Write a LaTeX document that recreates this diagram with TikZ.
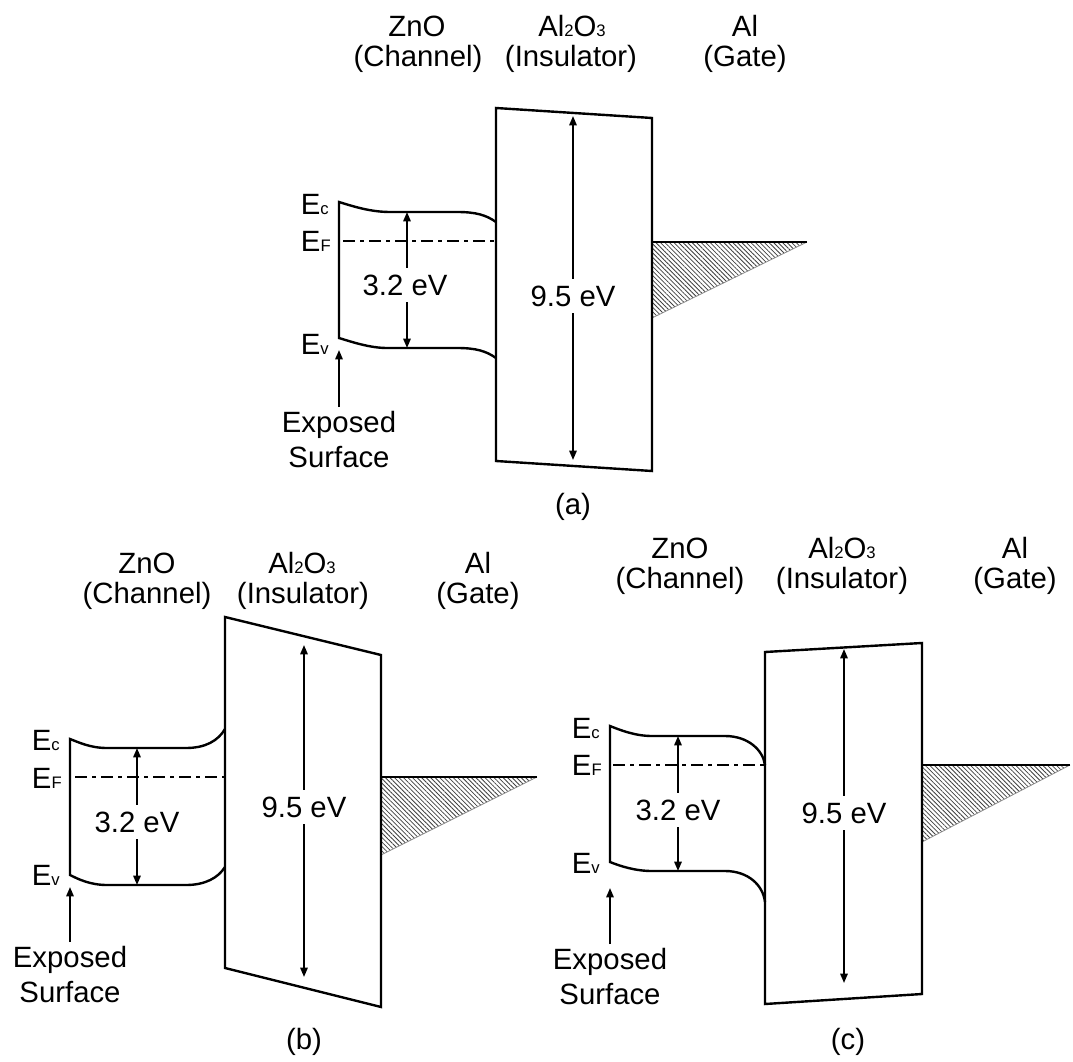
\documentclass[tikz,border=0pt]{standalone}
\usepackage{fontspec}
\setmainfont{Liberation Sans}
\usetikzlibrary{arrows.meta,patterns.meta}
\newcommand{\lo}[1]{{\fontsize{12.5pt}{12.5pt}\selectfont #1}}

\begin{document}
\begin{tikzpicture}[x=0.75pt, y=-0.75pt, every node/.style={font=\fontsize{22pt}{26.25pt}\selectfont}, >={Triangle[length=7pt,width=5.5pt]}, band/.style={line width=1.8pt}, fermi/.style={line width=1.4pt, dash pattern=on 9pt off 4pt on 2.5pt off 4pt}, gap/.style={<->, line width=1.4pt}, point/.style={->, line width=1.4pt}, lvl/.style={anchor=east, inner sep=0pt}, eg/.style={fill=white, inner xsep=1pt, inner ysep=5pt}, hatch/.style={pattern={Lines[angle=-45,distance=2.4pt,line width=0.6pt]}, pattern color=black!75}, edge/.style={black!45, line width=0.6pt}]
	\useasboundingbox (0,0) rectangle (1073,1062);
	% (a)
	\node[anchor=base] (a-zno) at (417,37) {ZnO};
	\node[anchor=base] (a-chan) at (418,67) {(Channel)};
	\node[anchor=base] (a-ox) at (572,37) {Al\lo{2}O\lo{3}};
	\node[anchor=base] (a-ins) at (571,67) {(Insulator)};
	\node[anchor=base] (a-al) at (745,37) {Al};
	\node[anchor=base] (a-gate) at (745,67) {(Gate)};
	\fill[hatch] (652,242) -- (807,242) -- (652,318) -- cycle;
	\draw[edge] (807,242) -- (652,318);
	\draw[band] (652,242) -- (807,242);
	\draw[band] (496,108) -- (652,118) -- (652,471) -- (496,461) -- cycle;
	\draw[band] (496,358) .. controls (486,351) and (476,348) .. (457,348) -- (387,348) .. controls (370,348) and (352,342) .. (339,338) -- (339,202) .. controls (352,206) and (370,212) .. (390,212) -- (457,212) .. controls (476,212) and (486,215) .. (496,222);
	\draw[fermi] (343,241) -- (496,241);
	\coordinate (a-c) at (407,212);
	\coordinate (a-v) at (407,348);
	\draw[gap] (a-c) -- (a-v);
	\node[eg] (a-eg) at (405,285) {3.2 eV};
	\coordinate (a-top) at (573,116);
	\coordinate (a-bot) at (573,460);
	\draw[gap] (a-top) -- (a-bot);
	\node[eg] (a-ei) at (573,296) {9.5 eV};
	\node[lvl] (a-ec) at (329,204) {E\lo{c}};
	\node[lvl] (a-ef) at (331,241) {E\lo{F}};
	\node[lvl] (a-ev) at (329,344) {E\lo{v}};
	\node[align=center] (a-exp) at (339,440) {Exposed\\Surface};
	\coordinate (a-surf) at (339,350);
	\draw[point] (a-exp) -- (a-surf);
	\node (a-lab) at (573,507) {(a)};
	% (b)
	\node[anchor=base] (b-zno) at (147,573) {ZnO};
	\node[anchor=base] (b-chan) at (147,603) {(Channel)};
	\node[anchor=base] (b-ox) at (302,573) {Al\lo{2}O\lo{3}};
	\node[anchor=base] (b-ins) at (303,603) {(Insulator)};
	\node[anchor=base] (b-al) at (478,573) {Al};
	\node[anchor=base] (b-gate) at (478,603) {(Gate)};
	\fill[hatch] (381,777) -- (537,777) -- (381,855) -- cycle;
	\draw[edge] (537,777) -- (381,855);
	\draw[band] (381,777) -- (537,777);
	\draw[band] (225,617) -- (381,655) -- (381,1007) -- (225,968) -- cycle;
	\draw[band] (225,867) .. controls (218,878) and (205,885) .. (186,885) -- (107,885) .. controls (90,885) and (78,879) .. (70,875) -- (70,739) .. controls (78,742) and (90,748) .. (107,748) -- (186,748) .. controls (205,748) and (218,741) .. (225,729);
	\draw[fermi] (75,777) -- (225,777);
	\coordinate (b-c) at (137,748);
	\coordinate (b-v) at (137,885);
	\draw[gap] (b-c) -- (b-v);
	\node[eg] (b-eg) at (137,822) {3.2 eV};
	\coordinate (b-top) at (304,645);
	\coordinate (b-bot) at (304,977);
	\draw[gap] (b-top) -- (b-bot);
	\node[eg] (b-ei) at (304,807) {9.5 eV};
	\node[lvl] (b-ec) at (60,740) {E\lo{c}};
	\node[lvl] (b-ef) at (62,778) {E\lo{F}};
	\node[lvl] (b-ev) at (60,875) {E\lo{v}};
	\node[align=center] (b-exp) at (70,975) {Exposed\\Surface};
	\coordinate (b-surf) at (70,887);
	\draw[point] (b-exp) -- (b-surf);
	\node (b-lab) at (304,1042) {(b)};
	% (c)
	\node[anchor=base] (c-zno) at (680,558) {ZnO};
	\node[anchor=base] (c-chan) at (680,588) {(Channel)};
	\node[anchor=base] (c-ox) at (842,558) {Al\lo{2}O\lo{3}};
	\node[anchor=base] (c-ins) at (842,588) {(Insulator)};
	\node[anchor=base] (c-al) at (1015,558) {Al};
	\node[anchor=base] (c-gate) at (1015,588) {(Gate)};
	\fill[hatch] (922,765) -- (1070,765) -- (922,842) -- cycle;
	\draw[edge] (1070,765) -- (922,842);
	\draw[band] (922,765) -- (1070,765);
	\draw[band] (765,652) -- (922,643) -- (922,994) -- (765,1004) -- cycle;
	\draw[band] (765,902) .. controls (763,885) and (748,871) .. (725,871) -- (652,871) .. controls (635,871) and (620,866) .. (610,862) -- (610,726) .. controls (620,730) and (635,736) .. (652,736) -- (725,736) .. controls (748,736) and (763,750) .. (765,765);
	\draw[fermi] (613,765) -- (765,765);
	\coordinate (c-c) at (678,736);
	\coordinate (c-v) at (678,871);
	\draw[gap] (c-c) -- (c-v);
	\node[eg] (c-eg) at (678,810) {3.2 eV};
	\coordinate (c-top) at (844,649);
	\coordinate (c-bot) at (844,983);
	\draw[gap] (c-top) -- (c-bot);
	\node[eg] (c-ei) at (844,813) {9.5 eV};
	\node[lvl] (c-ec) at (600,728) {E\lo{c}};
	\node[lvl] (c-ef) at (602,765) {E\lo{F}};
	\node[lvl] (c-ev) at (600,863) {E\lo{v}};
	\node[align=center] (c-exp) at (610,977) {Exposed\\Surface};
	\coordinate (c-surf) at (610,888);
	\draw[point] (c-exp) -- (c-surf);
	\node (c-lab) at (848,1042) {(c)};
\end{tikzpicture}
\end{document}
